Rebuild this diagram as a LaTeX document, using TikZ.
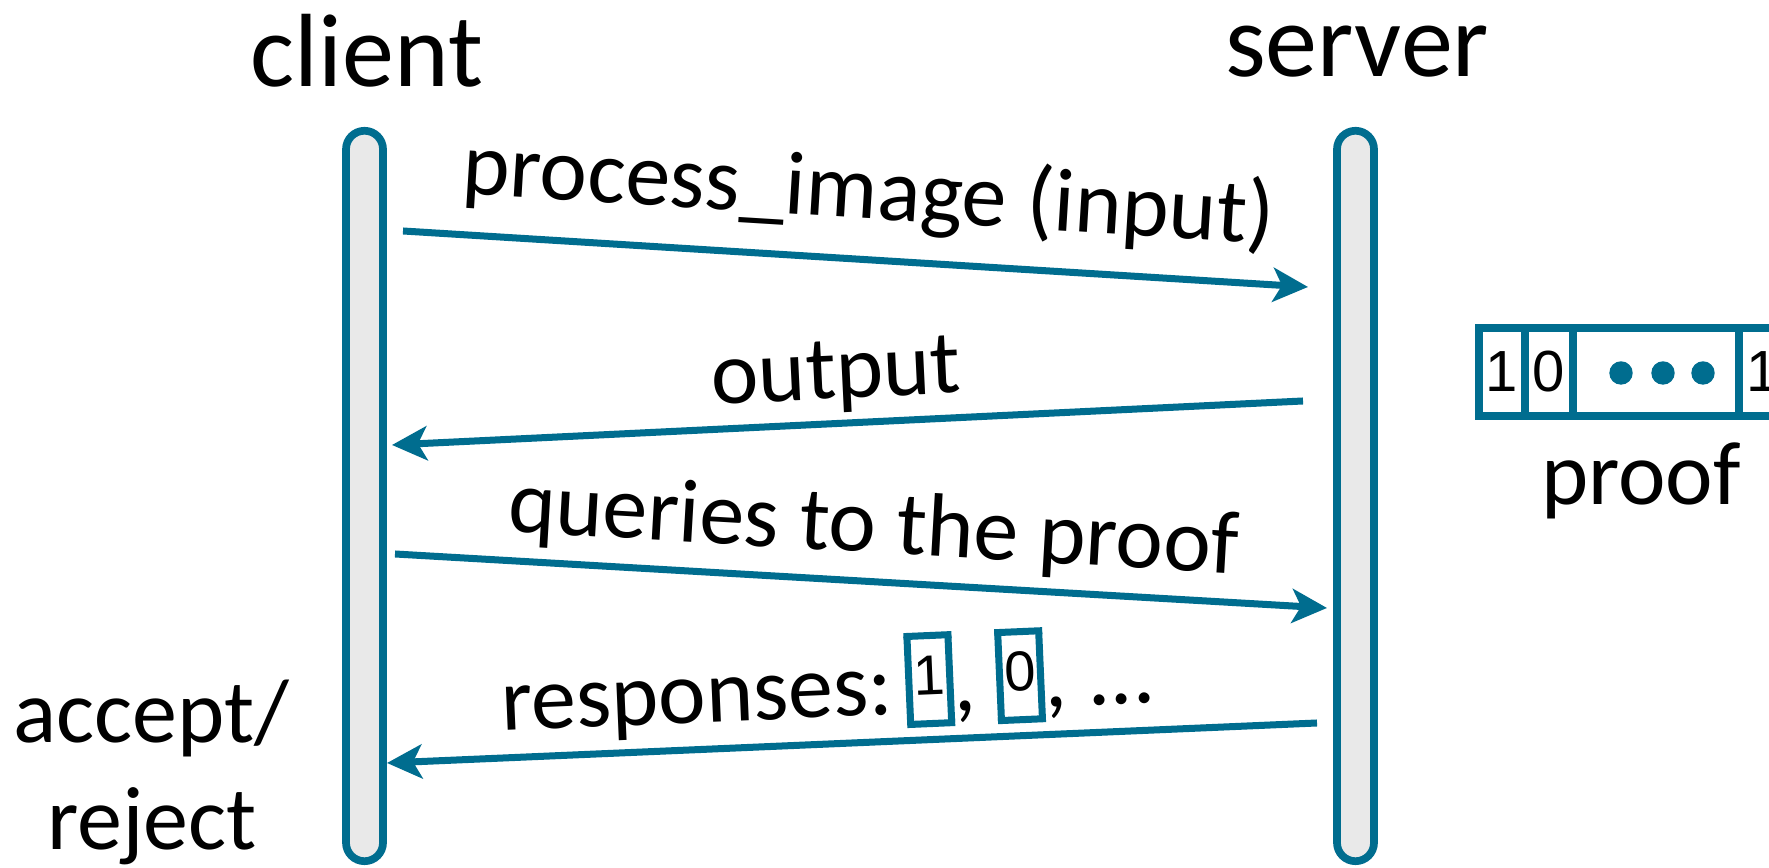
\documentclass[tikz,border=0pt]{standalone}
\usepackage{fontspec}
\setmainfont{Carlito}
\newfontfamily\digitfont{Liberation Sans}
\usetikzlibrary{arrows.meta}
\definecolor{tealc}{HTML}{006D8F}
\definecolor{barfill}{HTML}{E9E9E9}
\newcommand\bitbox[1]{{\setlength\fboxrule{0.07cm}\setlength\fboxsep{0pt}\fcolorbox{tealc}{white}{\makebox[0.34cm]{\rule[-0.075cm]{0pt}{0.81cm}\raisebox{0.18cm}{\fontsize{16pt}{18pt}\digitfont #1}}}}}
\begin{document}
\begin{tikzpicture}[x=0.01cm,y=-0.01cm,
  title/.style={font=\fontsize{29.6pt}{36pt}\selectfont, inner sep=0, outer sep=0, anchor=base},
  lbl/.style={font=\fontsize{25.6pt}{31pt}\selectfont, inner sep=0, outer sep=0, text depth=0pt},
  bar/.style={draw=tealc, fill=barfill, line width=0.077cm, rounded corners=0.185cm, minimum width=0.37cm, minimum height=7.3cm, inner sep=0},
  msg/.style={draw=tealc, line width=0.07cm, -{Stealth[length=0.35cm,width=0.34cm,inset=0.09cm]}},
  cell/.style={draw=tealc, line width=0.075cm, minimum height=0.88cm, inner sep=0, font=\fontsize{16.5pt}{18pt}\digitfont},
  dot/.style={circle, fill=tealc, minimum size=0.234cm, inner sep=0}
]
\clip (0,0) rectangle (1769,868);
\fill[white] (0,0) rectangle (1769,868);

\node[title] (client) at (367,87) {client};
\node[title] (server) at (1357,77) {server};
\node[bar] (cbar) at (364.5,496) {};
\node[bar] (sbar) at (1355.5,496) {};

\coordinate (a1s) at (403,231);  \coordinate (a1e) at (1308,287);
\coordinate (a2s) at (1303,401); \coordinate (a2e) at (392,445);
\coordinate (a3s) at (395,554);  \coordinate (a3e) at (1327,608);
\coordinate (a4s) at (1317,723); \coordinate (a4e) at (387,763);

\draw[msg] (a1s) -- node[lbl, sloped, pos=0.51, above=0.41cm] (l1) {process\_image (input)} (a1e);
\draw[msg] (a2s) -- node[lbl, sloped, pos=0.51, above=0.25cm] (l2) {output} (a2e);
\draw[msg] (a3s) -- node[lbl, sloped, pos=0.51, above=0.29cm] (l3) {queries to the proof} (a3e);
\draw[msg] (a4s) -- node[lbl, sloped, pos=0.523, above=0.27cm] (l4) {responses:\hspace{0.13cm}\bitbox{1}, \bitbox{0}, ...} (a4e);

\node[lbl, anchor=base] (accept) at (151,743) {accept/};
\node[lbl, anchor=base] (reject) at (152,850) {reject};

\node[cell, minimum width=0.46cm] (p1) at (1502,372) {1};
\node[cell, minimum width=0.48cm] (p2) at (1549,372) {0};
\node[cell, minimum width=1.66cm] (p3) at (1656,372) {};
\node[cell, minimum width=0.48cm] (p4) at (1763,372) {1};
\node[dot] (d1) at (1621,373) {};
\node[dot] (d2) at (1663,373) {};
\node[dot] (d3) at (1703,373) {};
\node[lbl, anchor=base] (prooflbl) at (1641,505) {proof};
\end{tikzpicture}
\end{document}
